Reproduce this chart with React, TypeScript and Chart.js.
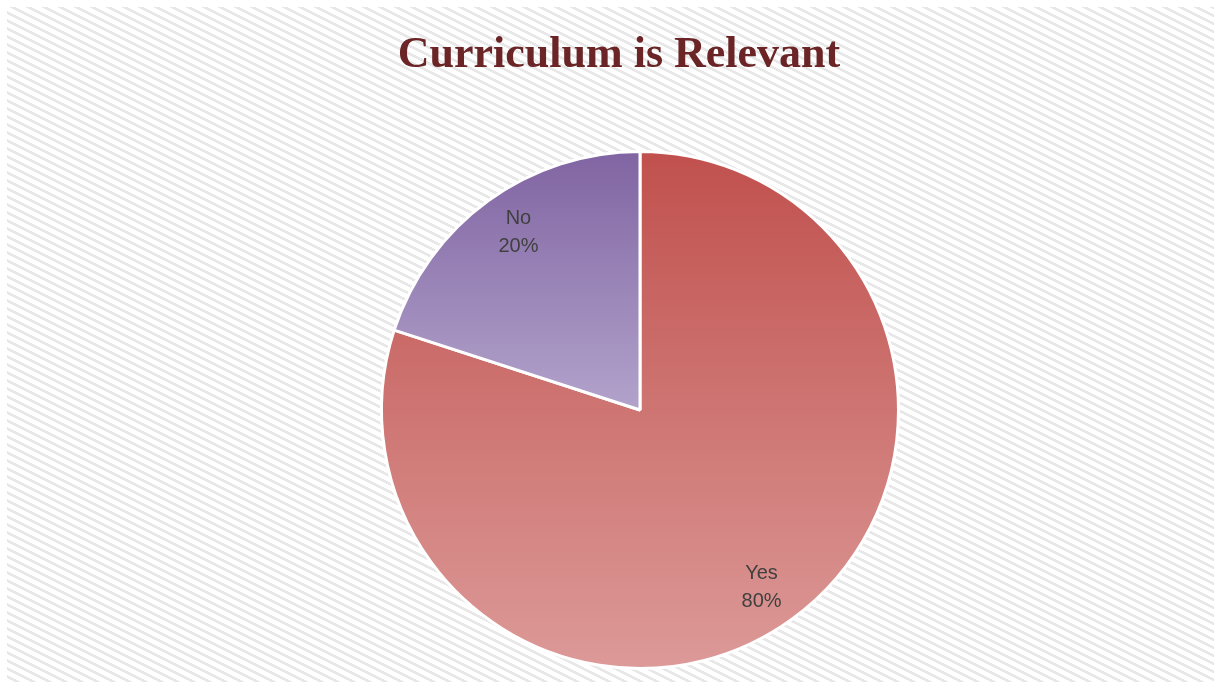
import React, { useEffect, useRef } from "react";
import { Chart, registerables } from "chart.js";

Chart.register(...registerables);

const TITLE = "Curriculum is Relevant";
const categories = ["Yes", "No"];
const values = [80, 20];
const percentLabels = ["80%", "20%"];
const topColors = ["#c0504d", "#8064a2"];
const bottomColors = ["#dc9a98", "#b2a3cb"];

function makePattern(ctx: CanvasRenderingContext2D) {
  const tile = document.createElement("canvas");
  tile.width = 16;
  tile.height = 8;
  const t = tile.getContext("2d")!;
  t.fillStyle = "#ffffff";
  t.fillRect(0, 0, 16, 8);
  t.fillStyle = "#e8e8e8";
  for (let x = 0; x < 16; x++) {
    const y = Math.floor(x / 2);
    t.fillRect(x, y, 1, 3);
    t.fillRect(x, y - 8, 1, 3);
  }
  return ctx.createPattern(tile, "repeat")!;
}

const bgPlugin = {
  id: "bgPattern",
  beforeDraw(chart: any) {
    const ctx = chart.ctx as CanvasRenderingContext2D;
    ctx.save();
    ctx.fillStyle = "#ffffff";
    ctx.fillRect(0, 0, chart.width, chart.height);
    ctx.fillStyle = makePattern(ctx);
    ctx.fillRect(7, 7, chart.width - 14, chart.height - 14);
    ctx.font = "bold 44px 'Liberation Serif', serif";
    ctx.fillStyle = "#6b2526";
    ctx.textAlign = "center";
    ctx.textBaseline = "middle";
    ctx.fillText(TITLE, 619, 56);
    ctx.restore();
  },
};

const labelPlugin = {
  id: "sliceLabels",
  afterDatasetsDraw(chart: any) {
    const ctx = chart.ctx as CanvasRenderingContext2D;
    const meta = chart.getDatasetMeta(0);
    ctx.save();
    ctx.font = "20px 'Liberation Sans', sans-serif";
    ctx.fillStyle = "#404040";
    ctx.textAlign = "center";
    ctx.textBaseline = "middle";
    meta.data.forEach((arc: any, i: number) => {
      const p = arc.getProps(["x", "y", "startAngle", "endAngle", "outerRadius"], true);
      const mid = (p.startAngle + p.endAngle) / 2;
      const x = p.x + Math.cos(mid) * p.outerRadius * 0.8;
      const y = p.y + Math.sin(mid) * p.outerRadius * 0.85;
      ctx.fillText(categories[i], x, y - 14);
      ctx.fillText(percentLabels[i], x, y + 14);
    });
    ctx.restore();
  },
};

export default function App() {
  const ref = useRef<HTMLCanvasElement>(null);
  useEffect(() => {
    document.body.style.margin = "0";
    const chart = new Chart(ref.current!, {
      type: "pie",
      data: {
        labels: categories,
        datasets: [
          {
            data: values,
            borderColor: "#ffffff",
            borderWidth: 3,
            backgroundColor: (c: any) => {
              const ch = c.chart;
              const area = ch.chartArea;
              if (!area) return topColors[c.dataIndex] ?? "#ccc";
              const i = c.dataIndex;
              const top = area.top;
              const cy = (area.top + area.bottom) / 2;
              const bottom = i === 0 ? area.bottom : cy;
              const g = ch.ctx.createLinearGradient(0, top, 0, bottom);
              g.addColorStop(0, topColors[i]);
              g.addColorStop(1, bottomColors[i]);
              return g;
            },
          },
        ],
      },
      options: {
        responsive: false,
        animation: false,
        layout: { padding: { top: 150, bottom: 19, left: 100, right: 41 } },
        plugins: { legend: { display: false }, tooltip: { enabled: false }, title: { display: false } },
      },
      plugins: [bgPlugin, labelPlugin],
    });
    return () => chart.destroy();
  }, []);
  return (
    <div style={{ width: 1221, height: 689 }}>
      <canvas ref={ref} width={1221} height={689} style={{ display: "block" }} />
    </div>
  );
}
